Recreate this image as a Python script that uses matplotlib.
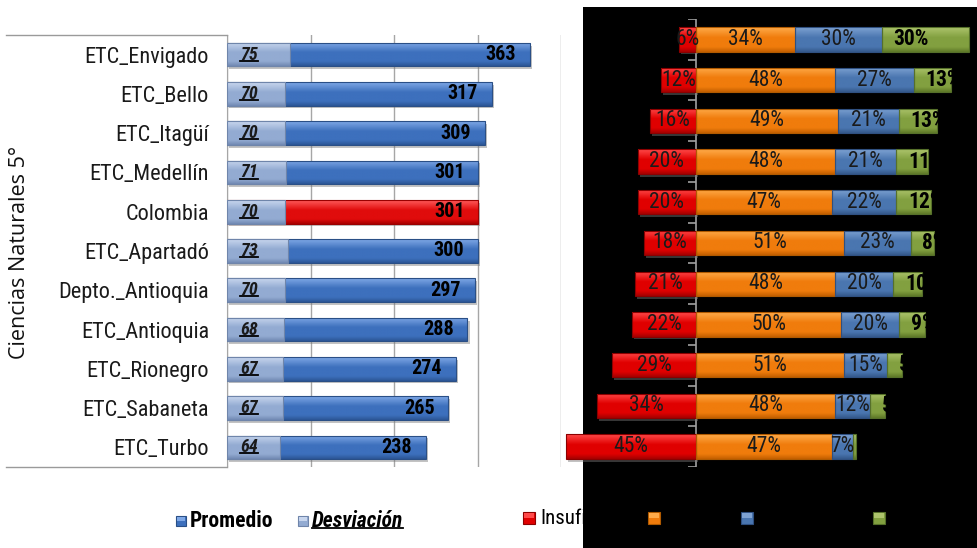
import numpy as np
import matplotlib
matplotlib.use("Agg")
import matplotlib.pyplot as plt
import matplotlib.patheffects as pe
from matplotlib import font_manager
from matplotlib.patches import Rectangle
from matplotlib.lines import Line2D
from matplotlib.colors import LinearSegmentedColormap
from matplotlib.transforms import IdentityTransform

# ---- data -------------------------------------------------------------
categories = ['ETC_Envigado', 'ETC_Bello', 'ETC_Itagüí', 'ETC_Medellín', 'Colombia',
              'ETC_Apartadó', 'Depto._Antioquia', 'ETC_Antioquia', 'ETC_Rionegro',
              'ETC_Sabaneta', 'ETC_Turbo']
promedio = [363, 317, 309, 301, 301, 300, 297, 288, 274, 265, 238]
desviacion = [75, 70, 70, 71, 70, 73, 70, 68, 67, 67, 64]

insuficiente = [6, 12, 16, 20, 20, 18, 21, 22, 29, 34, 45]
minimo = [34, 48, 49, 48, 47, 51, 48, 50, 51, 48, 47]
satisfactorio = [30, 27, 21, 21, 22, 23, 20, 20, 15, 12, 7]
avanzado = [30, 13, 13, 11, 12, 8, 10, 9, 5, 5, 1]

nivel_labels = ['Insuficiente', 'Mínimo', 'Satisfactorio', 'Avanzado']
highlight = 'Colombia'
x_ticks = [0, 100, 200, 300, 400]


def pick_font(candidates):
    names = {f.name for f in font_manager.fontManager.ttflist}
    for c in candidates:
        if c in names:
            return c
    return 'DejaVu Sans'


NARROW = pick_font(['Liberation Sans Narrow', 'Roboto Condensed', 'Liberation Sans'])
HUMAN = pick_font(['Open Sans', 'Noto Sans', 'DejaVu Sans'])

W, H = 977, 548
fig = plt.figure(figsize=(W / 100, H / 100), dpi=100)
fig.patch.set_facecolor('white')


def fx(px):
    return px / W


def fy(py):
    return 1 - py / H


# black panel behind the performance-level chart
fig.patches.append(Rectangle((fx(583), 0), fx(977) - fx(583), 1 - 7 / H,
                             transform=fig.transFigure, facecolor='black',
                             edgecolor='none', zorder=-5))

# palettes: (top light, base, bottom dark, edge)
PAL = {
    'prom': ('#7fa8e6', '#3d70bd', '#2c5696', '#2a4f86'),
    'dev': ('#c8d6ee', '#93abd2', '#7189b3', '#6f85aa'),
    'col': ('#ff5a5a', '#e00c0c', '#a80000', '#9a0000'),
    'red': ('#ff4a4a', '#e00000', '#a50000', '#8c0000'),
    'orange': ('#ffab4a', '#f07c0c', '#c46000', '#b05a00'),
    'blue': ('#7ea2d2', '#4a76b0', '#35598c', '#2f5081'),
    'green': ('#adc46c', '#82a040', '#5f7a28', '#56702a'),
}

SHADOW = [pe.SimplePatchShadow(offset=(1.5, -2), shadow_rgbFace='#7a7a7a',
                               alpha=0.45), pe.Normal()]


def bevel(ax, bars, keys, shadow=True):
    """Paint a vertical light-to-dark gradient inside each bar."""
    grad = np.linspace(0, 1, 64).reshape(-1, 1)
    for bar, key in zip(bars, keys):
        top, base, dark, edge = PAL[key]
        if shadow:
            bar.set_path_effects(SHADOW)
        cmap = LinearSegmentedColormap.from_list(
            key, [(0, top), (0.42, base), (0.8, base), (1, dark)])
        x0, y0 = bar.get_x(), bar.get_y()
        w, h = bar.get_width(), bar.get_height()
        im = ax.imshow(grad, extent=(x0, x0 + w, y0 + h, y0), origin='upper',
                       cmap=cmap, aspect='auto', interpolation='bilinear',
                       zorder=bar.get_zorder() + 0.1)
        im.set_clip_path(bar)
        ax.add_patch(Rectangle((x0, y0), w, h, fill=False, edgecolor=edge,
                               lw=0.8, zorder=bar.get_zorder() + 0.2))


n = len(categories)
y = np.arange(n)

# ---- left chart: average score and standard deviation -----------------
axL = fig.add_axes([fx(227), fy(467), fx(561) - fx(227), (467 - 35) / H])
axL.set_facecolor('none')
prom_keys = ['col' if c == highlight else 'prom' for c in categories]
bars_p = axL.barh(y, promedio, height=0.6, color=[PAL[k][1] for k in prom_keys],
                  zorder=3)
bevel(axL, bars_p, prom_keys)
bars_d = axL.barh(y, desviacion, height=0.6, color=PAL['dev'][1], zorder=5)
bevel(axL, bars_d, ['dev'] * n, shadow=False)

underlined = []
for i in range(n):
    axL.annotate(str(promedio[i]), (promedio[i], i), xytext=(-10, 0),
                 textcoords='offset points', ha='right', va='center',
                 fontsize=14.5, fontweight='bold', family=NARROW, color='black',
                 zorder=7)
    t = axL.annotate(str(desviacion[i]), (0, i), xytext=(9.5, 0),
                     textcoords='offset points', ha='left', va='center',
                     fontsize=13, fontweight='bold', fontstyle='italic',
                     family=NARROW, color='#1a1a1a', zorder=7)
    underlined.append(t)

axL.set_xlim(0, 400)
axL.set_ylim(n - 0.5, -0.5)
axL.set_xticks(x_ticks)
axL.xaxis.grid(True, color='#a6a6a6', lw=1.0, zorder=0)
axL.tick_params(axis='x', length=0, labelbottom=False)
axL.set_yticks(y)
axL.set_yticklabels(categories, family=NARROW, fontsize=16, color='#1a1a1a')
axL.tick_params(axis='y', length=0, pad=13)
for s in ['top', 'right', 'bottom']:
    axL.spines[s].set_visible(False)
axL.spines['left'].set_color('#a6a6a6')
axL.set_axisbelow(True)

# frame lines of the category column
for py in (35, 467):
    fig.add_artist(Line2D([fx(6), fx(227)], [fy(py), fy(py)], color='#9a9a9a',
                          lw=1.0, transform=fig.transFigure))

fig.text(fx(20), fy(252), 'Ciencias Naturales 5°', rotation=90, ha='center',
         va='center', fontsize=15.5, family=HUMAN, color='#111111')

# ---- right chart: performance levels ----------------------------------
axR = fig.add_axes([fx(560), fy(467), fx(977) - fx(560), (467 - 19) / H])
axR.set_facecolor('none')
axR.set_zorder(3)
ins = np.array(insuficiente)
mn = np.array(minimo)
sat = np.array(satisfactorio)
av = np.array(avanzado)
b_ins = axR.barh(y, -ins, height=0.6, color=PAL['red'][1], zorder=3)
b_min = axR.barh(y, mn, height=0.6, color=PAL['orange'][1], zorder=3)
b_sat = axR.barh(y, sat, left=mn, height=0.6, color=PAL['blue'][1], zorder=3)
b_av = axR.barh(y, av, left=mn + sat, height=0.6, color=PAL['green'][1], zorder=3)
bevel(axR, b_ins, ['red'] * n)
bevel(axR, b_min, ['orange'] * n, shadow=False)
bevel(axR, b_sat, ['blue'] * n, shadow=False)
bevel(axR, b_av, ['green'] * n, shadow=False)

lab_kw = dict(ha='center', va='center', fontsize=15.5, family=NARROW,
              color='#1a1a1a', zorder=7)
for i in range(n):
    axR.text(-ins[i] / 2, i, f'{ins[i]}%', **lab_kw)
    axR.text(mn[i] / 2, i, f'{mn[i]}%', **lab_kw)
    axR.text(mn[i] + sat[i] / 2, i, f'{sat[i]}%', **lab_kw)
    axR.annotate(f'{av[i]}%', (mn[i] + sat[i], i), xytext=(8.5, 0),
                 textcoords='offset points', ha='left', va='center',
                 fontsize=15.5, fontweight='bold', family=NARROW, color='black',
                 zorder=7)

px_per = 2.9
axR.set_xlim((560 - 696) / px_per, (977 - 696) / px_per)
axR.set_ylim(n - 0.5, -0.5)
axR.axvline(0, color='#a0a0a0', lw=1.2, zorder=2)
for b in np.arange(-0.5, n + 0.5, 1.0):
    axR.plot([-8 / px_per, 0], [b, b], color='#a0a0a0', lw=1.2, zorder=2,
             solid_capstyle='butt')
axR.set_xticks([])
axR.set_yticks([])
for s in axR.spines.values():
    s.set_visible(False)

# ---- legends ----------------------------------------------------------
def legend_box(x, ycen, size, key):
    top, base, dark, edge = PAL[key]
    fig.patches.append(Rectangle((fx(x), fy(ycen + size / 2)), size / W, size / H,
                                 transform=fig.transFigure, facecolor=base,
                                 edgecolor=edge, lw=0.8, zorder=5))
    fig.patches.append(Rectangle((fx(x + 1), fy(ycen - 0.5)), (size - 2) / W,
                                 (size / 2 - 1) / H, transform=fig.transFigure,
                                 facecolor=top, edgecolor='none', zorder=5.1))


legend_box(176, 521, 10, 'prom')
fig.text(fx(190), fy(521), 'Promedio', ha='left', va='center', fontsize=15.5,
         fontweight='bold', family=NARROW, color='black')
legend_box(298, 521, 10, 'dev')
t_dev = fig.text(fx(312), fy(521), 'Desviación', ha='left', va='center',
                 fontsize=15.5, fontweight='bold', fontstyle='italic',
                 family=NARROW, color='black')
underlined.append(t_dev)

for x, key, lab in zip([523, 648, 741, 873], ['red', 'orange', 'blue', 'green'],
                       nivel_labels):
    legend_box(x, 518, 12, key)
    fig.text(fx(x + 17), fy(518), lab, ha='left', va='center', fontsize=15,
             family=NARROW, color='black', zorder=6)

# underline the deviation figures
fig.canvas.draw()
renderer = fig.canvas.get_renderer()
for t in underlined:
    bb = t.get_window_extent(renderer)
    yy = bb.y0 + 0.16 * bb.height
    fig.add_artist(Line2D([bb.x0, bb.x1], [yy, yy], color='black', lw=1.3,
                          transform=IdentityTransform(), zorder=8))

fig.savefig('out.png', dpi=100, facecolor=fig.get_facecolor())
